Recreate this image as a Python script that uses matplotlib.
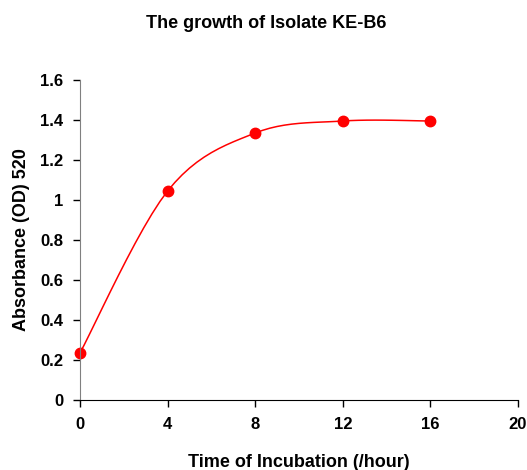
import matplotlib
matplotlib.use("Agg")
import matplotlib.pyplot as plt
import numpy as np

plt.rcParams['font.family'] = ['Liberation Sans', 'DejaVu Sans']
plt.rcParams['font.weight'] = 'bold'

hours = [0, 4, 8, 12, 16]
absorbance = [0.235, 1.045, 1.335, 1.395, 1.395]
x_ticks = [0, 4, 8, 12, 16, 20]
y_ticks = [0, 0.2, 0.4, 0.6, 0.8, 1, 1.2, 1.4, 1.6]
y_tick_labels = ['0', '0.2', '0.4', '0.6', '0.8', '1', '1.2', '1.4', '1.6']


def smooth_line(xs, ys, n=12):  # excel style smoothed line (bezier through points)
    p = np.column_stack([xs, ys]).astype(float)
    out = [p[0]]
    for i in range(len(p) - 1):
        p0 = p[i - 1] if i > 0 else p[i]
        p3 = p[i + 2] if i + 2 < len(p) else p[i + 1]
        c1 = p[i] + (p[i + 1] - p0) / 6
        c2 = p[i + 1] - (p3 - p[i]) / 6
        t = np.linspace(0, 1, n + 1)[1:, None]
        seg = ((1 - t) ** 3 * p[i] + 3 * (1 - t) ** 2 * t * c1
               + 3 * (1 - t) * t ** 2 * c2 + t ** 3 * p[i + 1])
        out.extend(seg)
    out = np.array(out)
    return out[:, 0], out[:, 1]


fig = plt.figure(figsize=(5.27, 4.7), dpi=100)
ax = fig.add_axes([80 / 527, 70 / 470, 438 / 527, 320 / 470])

sx, sy = smooth_line(hours, absorbance)
ax.plot(sx, sy, color='#ff0000', lw=1.1)
ax.plot(hours, absorbance, 'o', color='#ff0000', ms=7.5, clip_on=False)

ax.set_xlim(0, 20)
ax.set_ylim(0, 1.6)
ax.set_xticks(x_ticks)
ax.set_yticks(y_ticks)
ax.set_yticklabels(y_tick_labels)
ax.spines['top'].set_visible(False)
ax.spines['right'].set_visible(False)
ax.spines['left'].set_color('#808080')
ax.spines['bottom'].set_color('#000000')
ax.tick_params(direction='out', length=5, width=1, labelsize=12, pad=7)

ax.set_xlabel('Time of Incubation (/hour)', fontsize=13, fontweight='bold', labelpad=16)
ax.set_ylabel('Absorbance (OD) 520', fontsize=13, fontweight='bold', labelpad=7.5)
fig.text(266 / 527, 1 - 23 / 470, 'The growth of Isolate KE-B6', ha='center', va='center',
         fontsize=13, fontweight='bold')

fig.savefig('out.png', dpi=100)
